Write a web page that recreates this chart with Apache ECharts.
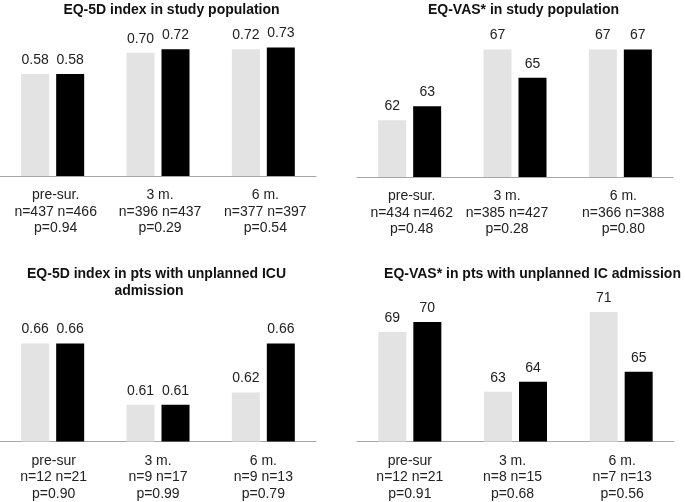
<!DOCTYPE html>
<html>
<head>
<meta charset="utf-8">
<script src="https://cdn.jsdelivr.net/npm/echarts@6/dist/echarts.min.js"></script>
<style>
html,body{margin:0;padding:0;background:#fff;}
#c{width:685px;height:502px;}
</style>
</head>
<body>
<div id="c"></div>
<script>
// Titles
var titles = [
  'EQ-5D index in study population',
  'EQ-VAS* in study population',
  'EQ-5D index in pts with unplanned ICU\nadmission',
  'EQ-VAS* in pts with unplanned IC admission'
];
// Category tick labels (multi-line)
var ticks1 = ['pre-sur.\nn=437 n=466\np=0.94', '3 m.\nn=396 n=437\np=0.29', '6 m.\nn=377 n=397\np=0.54'];
var ticks2 = ['pre-sur.\nn=434 n=462\np=0.48', '3 m.\nn=385 n=427\np=0.28', '6 m.\nn=366 n=388\np=0.80'];
var ticks3 = ['pre-sur\nn=12 n=21\np=0.90', '3 m.\nn=9 n=17\np=0.99', '6 m.\nn=9 n=13\np=0.79'];
var ticks4 = ['pre-sur\nn=12 n=21\np=0.91', '3 m.\nn=8 n=15\np=0.68', '6 m.\nn=7 n=13\np=0.56'];
// Series values (light grey group, black group)
var p1a = [0.58, 0.70, 0.72], p1b = [0.58, 0.72, 0.73];
var p2a = [62, 67, 67],       p2b = [63, 65, 67];
var p3a = [0.66, 0.61, 0.62], p3b = [0.66, 0.61, 0.66];
var p4a = [69, 63, 71],       p4b = [70, 64, 65];

var FONT = '"Liberation Sans", Arial, Helvetica, sans-serif';
var LIGHT = '#e3e3e3', DARK = '#000000';

var grids = [
  {left: 0,   top: 0,   width: 316, height: 176},
  {left: 357, top: 7,   width: 316, height: 170},
  {left: 0,   top: 319, width: 316, height: 123},
  {left: 357, top: 302, width: 317, height: 141}
];
var yRanges = [[0, 1], [58, 70], [0.58, 0.68], [58, 72]];
var tickSets = [ticks1, ticks2, ticks3, ticks4];
var dataSets = [[p1a, p1b], [p2a, p2b], [p3a, p3b], [p4a, p4b]];
var decimals = [2, 0, 2, 0];
// horizontal nudges (px) of the tick label blocks, per panel / category
var labelShift = [[3, 2, 2], [2, -8, 3], [1, 0, 0], [0, -3, 1]];
var titlePos = [
  {left: 171.5, top: 1},
  {left: 523.5, top: 1},
  {left: 156.5, top: 265},
  {left: 532.5, top: 265}
];

function labelStyleBase() {
  return {fontFamily: FONT, fontSize: 14, color: '#222', lineHeight: 16.5};
}

var option = {
  animation: false,
  backgroundColor: '#fff',
  title: titles.map(function (t, i) {
    var lines = t.split('\n');
    var rich = {
      a: {fontFamily: FONT, fontSize: 14, fontWeight: 'bold', color: '#111', lineHeight: 17.5},
      b: {fontFamily: FONT, fontSize: 14, fontWeight: 'bold', color: '#111', lineHeight: 17.5, padding: [0, 15, 0, 0]}
    };
    var txt = lines.length > 1
      ? '{a|' + lines[0] + '}\n{b|' + lines[1] + '}'
      : '{a|' + lines[0] + '}';
    return {
      text: txt, left: titlePos[i].left, top: titlePos[i].top, textAlign: 'center', padding: 0,
      textStyle: {fontFamily: FONT, fontSize: 14, fontWeight: 'bold', color: '#111', lineHeight: 17.5, rich: rich}
    };
  }),
  grid: grids,
  xAxis: tickSets.map(function (tk, i) {
    var rich = {};
    labelShift[i].forEach(function (s, k) {
      var st = labelStyleBase();
      st.padding = [0, s < 0 ? -2 * s : 0, 0, s > 0 ? 2 * s : 0];
      rich['s' + k] = st;
    });
    return {
      type: 'category', gridIndex: i, data: tk,
      axisLine: {lineStyle: {color: '#a6a6a6', width: 1}},
      axisTick: {show: false},
      axisLabel: {
        fontFamily: FONT, fontSize: 14, color: '#222', lineHeight: 16.5, margin: 11, interval: 0,
        rich: rich,
        formatter: function (value, idx) {
          return value.split('\n').map(function (line) {
            return '{s' + idx + '|' + line + '}';
          }).join('\n');
        }
      }
    };
  }),
  yAxis: yRanges.map(function (r, i) {
    return {type: 'value', gridIndex: i, min: r[0], max: r[1], show: false, splitLine: {show: false}};
  }),
  series: []
};

dataSets.forEach(function (pair, i) {
  [LIGHT, DARK].forEach(function (col, j) {
    option.series.push({
      type: 'bar', name: j === 0 ? 'group 1' : 'group 2',
      xAxisIndex: i, yAxisIndex: i, data: pair[j],
      barWidth: 28, barGap: '25%',
      itemStyle: {color: col},
      label: {
        show: true, position: 'top', distance: 7,
        fontFamily: FONT, fontSize: 14, color: '#222',
        formatter: function (p) { return Number(p.value).toFixed(decimals[i]); }
      }
    });
  });
});

var chart = echarts.init(document.getElementById('c'), null, {renderer: 'canvas'});
chart.setOption(option);
</script>
</body>
</html>
